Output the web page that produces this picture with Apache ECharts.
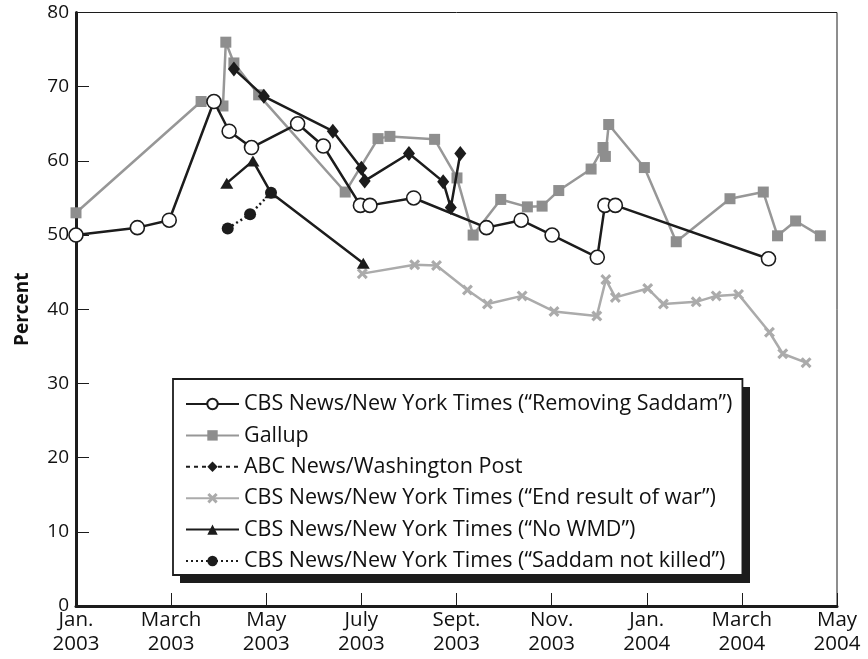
<!DOCTYPE html>
<html>
<head>
<meta charset="utf-8">
<script src="https://cdn.jsdelivr.net/npm/echarts@6/dist/echarts.min.js"></script>
<style>
  html, body { margin: 0; padding: 0; background: #fff; }
  #chart { width: 868px; height: 659px; }
</style>
</head>
<body>
<div id="chart"></div>
<script>
// Time is measured in months since January 2003 (0 = Jan. 2003, 16 = May 2004).
const tickLabels = ['Jan.\n2003', 'March\n2003', 'May\n2003', 'July\n2003', 'Sept.\n2003',
                    'Nov.\n2003', 'Jan.\n2004', 'March\n2004', 'May\n2004'];

const seriesNames = [
  'CBS News/New York Times (\u201CRemoving Saddam\u201D)',
  'Gallup',
  'ABC News/Washington Post',
  'CBS News/New York Times (\u201CEnd result of war\u201D)',
  'CBS News/New York Times (\u201CNo WMD\u201D)',
  'CBS News/New York Times (\u201CSaddam not killed\u201D)'
];

const removingMonths = [0, 1.29, 1.96, 2.9, 3.22, 3.69, 4.66, 5.2, 5.98, 6.18, 7.1, 8.63, 9.36, 10.01, 10.96, 11.12, 11.34, 14.56];
const removingPct    = [50, 51, 52, 68, 64, 61.8, 65, 62, 54, 54, 55, 51, 52, 50, 47, 54, 54, 46.8];

const gallupMonths = [0, 2.63, 3.09, 3.15, 3.32, 3.84, 5.66, 6.35, 6.6, 7.54, 8.01, 8.35, 8.93, 9.49, 9.8, 10.15, 10.83, 11.08, 11.13, 11.2, 11.95, 12.62, 13.75, 14.45, 14.75, 15.13, 15.65];
const gallupPct    = [53, 68, 67.4, 76, 73.2, 68.9, 55.8, 63, 63.3, 62.9, 57.7, 50, 54.8, 53.8, 53.9, 56, 58.9, 61.8, 60.6, 64.9, 59.1, 49.1, 54.9, 55.8, 49.9, 51.9, 49.9];

const abcMonths = [3.32, 3.95, 5.4, 6.0, 6.07, 7.0, 7.72, 7.88, 8.08];
const abcPct    = [72.4, 68.7, 64, 59, 57.3, 61, 57.2, 53.7, 61];

const endResultMonths = [6.02, 7.12, 7.58, 8.23, 8.65, 9.38, 10.05, 10.95, 11.14, 11.34, 12.02, 12.35, 13.04, 13.46, 13.93, 14.58, 14.86, 15.35];
const endResultPct    = [44.8, 46, 45.9, 42.6, 40.7, 41.8, 39.7, 39.1, 44, 41.6, 42.8, 40.7, 41, 41.8, 42, 36.9, 34, 32.8];

const noWmdMonths = [3.17, 3.72, 4.1, 6.04];
const noWmdPct    = [57, 60, 55.7, 46.2];

const notKilledMonths = [3.19, 3.66, 4.1];
const notKilledPct    = [50.9, 52.8, 55.7];

const yTicks = [0, 10, 20, 30, 40, 50, 60, 70, 80];

function pairs(xs, ys) { return xs.map((x, i) => [x, ys[i]]); }

const FONT = '"Open Sans", "Noto Sans", sans-serif';
const BLACK = '#1c1c1c';
const GALLUP = '#979797';
const ENDRES = '#ababab';
const CROSS = 'path://M2,0L5,3L8,0L10,2L7,5L10,8L8,10L5,7L2,10L0,8L3,5L0,2Z';

const chart = echarts.init(document.getElementById('chart'), null, { renderer: 'canvas' });

chart.setOption({
  animation: false,
  backgroundColor: '#fff',
  grid: {
    left: 76, right: 31, top: 12.5, bottom: 53,
    show: true, borderColor: BLACK, borderWidth: 1, backgroundColor: 'transparent'
  },
  // solid drop shadow behind the legend box
  graphic: [{
    type: 'rect', z: 1, silent: true,
    shape: { x: 180, y: 387, width: 570, height: 196 },
    style: { fill: BLACK }
  }],
  xAxis: {
    type: 'value', min: 0, max: 16, interval: 2,
    axisLine: { show: true, onZero: false, lineStyle: { color: BLACK, width: 3 } },
    axisTick: { show: true, inside: true, length: 13, lineStyle: { color: BLACK, width: 1 } },
    splitLine: { show: false },
    axisLabel: {
      margin: 2, color: '#111', fontFamily: FONT, fontSize: 20.5, lineHeight: 24,
      formatter: v => tickLabels[Math.round(v / 2)] || ''
    }
  },
  yAxis: {
    type: 'value', min: 0, max: 80, interval: 10,
    name: 'Percent', nameLocation: 'middle', nameGap: 44, nameRotate: 90,
    nameTextStyle: { fontFamily: FONT, fontSize: 19, fontWeight: 'bold', color: '#111' },
    axisLine: { show: true, onZero: false, lineStyle: { color: BLACK, width: 3 } },
    axisTick: { show: true, inside: true, length: 13, lineStyle: { color: BLACK, width: 1 } },
    splitLine: { show: false },
    axisLabel: {
      margin: 7, color: '#111', fontFamily: FONT, fontSize: 19,
      formatter: v => (yTicks.indexOf(v) >= 0 ? String(v) : '')
    }
  },
  legend: {
    orient: 'vertical', left: 173, top: 379, z: 5,
    padding: [14, 10, 3, 12], itemGap: 9.4, itemWidth: 53, itemHeight: 13,
    backgroundColor: '#fff', borderColor: BLACK, borderWidth: 1.8,
    textStyle: { fontFamily: FONT, fontSize: 21.5, color: '#111' },
    data: [
      { name: seriesNames[0] },
      { name: seriesNames[1] },
      { name: seriesNames[2], lineStyle: { type: [4, 4] } },
      { name: seriesNames[3] },
      { name: seriesNames[4] },
      { name: seriesNames[5] }
    ]
  },
  series: [
    {
      name: seriesNames[1], type: 'line', data: pairs(gallupMonths, gallupPct),
      symbol: 'rect', symbolSize: 11,
      lineStyle: { color: GALLUP, width: 2.5 }, itemStyle: { color: '#8e8e8e' }, z: 2
    },
    {
      name: seriesNames[3], type: 'line', data: pairs(endResultMonths, endResultPct),
      symbol: CROSS, symbolSize: 11,
      lineStyle: { color: ENDRES, width: 2.5 }, itemStyle: { color: ENDRES }, z: 2
    },
    {
      name: seriesNames[2], type: 'line', data: pairs(abcMonths, abcPct),
      symbol: 'diamond', symbolSize: [12, 15],
      lineStyle: { color: BLACK, width: 2.5 }, itemStyle: { color: BLACK }, z: 3
    },
    {
      name: seriesNames[4], type: 'line', data: pairs(noWmdMonths, noWmdPct),
      symbol: 'triangle', symbolSize: [13, 11],
      lineStyle: { color: BLACK, width: 2.5 }, itemStyle: { color: BLACK }, z: 3
    },
    {
      name: seriesNames[5], type: 'line', data: pairs(notKilledMonths, notKilledPct),
      symbol: 'circle', symbolSize: 12,
      lineStyle: { color: BLACK, width: 2.5, type: [2, 3] }, itemStyle: { color: BLACK }, z: 4
    },
    {
      name: seriesNames[0], type: 'line', data: pairs(removingMonths, removingPct),
      symbol: 'circle', symbolSize: 14, showAllSymbol: true,
      lineStyle: { color: BLACK, width: 2.5 },
      itemStyle: { color: '#fff', borderColor: BLACK, borderWidth: 1.6 }, z: 5
    }
  ]
});
</script>
</body>
</html>
